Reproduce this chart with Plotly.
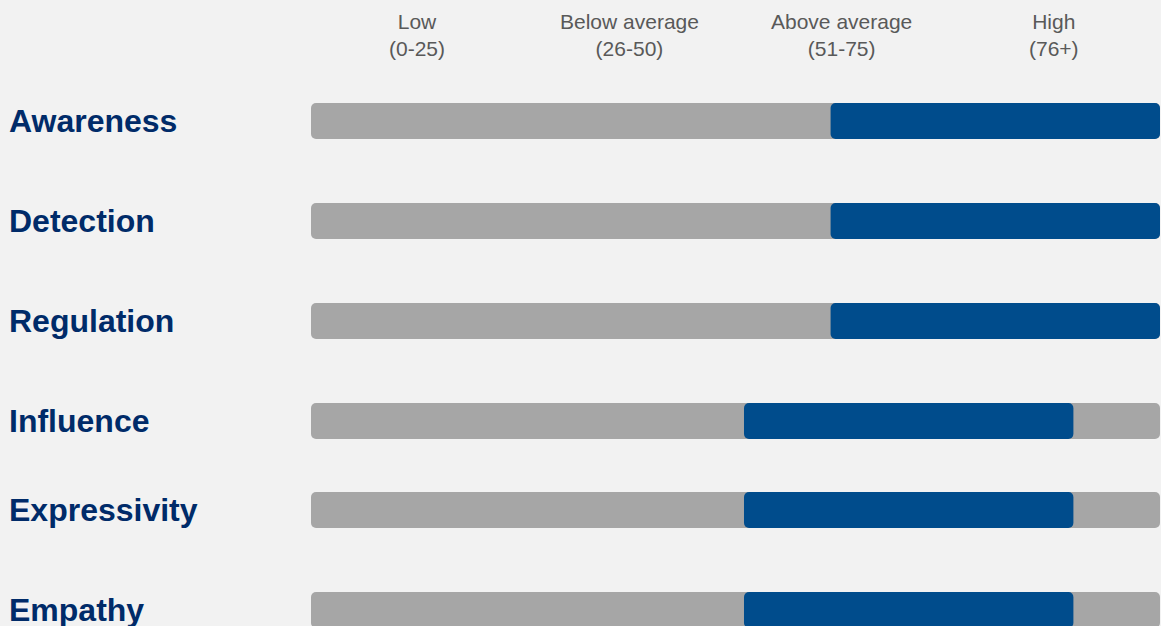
import plotly.graph_objects as go

# Data
categories = ["Awareness", "Detection", "Regulation", "Influence", "Expressivity", "Empathy"]
score_low = [61.2, 61.2, 61.2, 51, 51, 51]
score_high = [100, 100, 100, 89.8, 89.8, 89.8]
scale_max = 100
band_labels = ["Low<br>(0-25)", "Below average<br>(26-50)", "Above average<br>(51-75)", "High<br>(76+)"]
band_centers = [12.5, 37.5, 62.5, 87.5]

# Layout (row positions; uneven gap as in the reference)
row_pos = [0, 1, 2, 3, 3.89, 4.89]

BG = "#f2f2f2"
GRAY = "#a6a6a6"
BLUE = "#004c8c"
NAVY = "#002b69"

fig = go.Figure()
fig.add_trace(go.Bar(
    x=[scale_max] * len(categories), y=row_pos, base=0, orientation="h",
    width=0.36, marker=dict(color=GRAY, cornerradius=5, line=dict(width=0)),
    hoverinfo="skip", showlegend=False))
fig.add_trace(go.Bar(
    x=[h - l for l, h in zip(score_low, score_high)], y=row_pos, base=score_low,
    orientation="h", width=0.36,
    marker=dict(color=BLUE, cornerradius=5, line=dict(width=0)),
    customdata=categories, hovertemplate="%{customdata}: %{base}-%{x}<extra></extra>",
    showlegend=False))

plot_w = 1161 - 311 - 1
for cat, y in zip(categories, row_pos):
    fig.add_annotation(x=(7 - 311) / plot_w, xref="paper", y=y, yref="y",
                       text=cat, showarrow=False, xanchor="left", yanchor="middle",
                       font=dict(family="Liberation Sans, Arial", size=32, color=NAVY,
                                 weight="bold"))

for lab, xc in zip(band_labels, band_centers):
    fig.add_annotation(x=xc, xref="x", y=1 - 35 / 626, yref="paper", text=lab,
                       showarrow=False, xanchor="center", yanchor="middle",
                       font=dict(family="Liberation Sans, Arial", size=21, color="#595959"))

fig.update_layout(
    width=1161, height=626, paper_bgcolor=BG, plot_bgcolor=BG,
    margin=dict(l=311, r=1, t=0, b=0), barmode="overlay",
    xaxis=dict(range=[0, scale_max], visible=False, fixedrange=True),
    yaxis=dict(range=[5.05, -1.21], visible=False, fixedrange=True),
)
fig.write_html("out.html")
